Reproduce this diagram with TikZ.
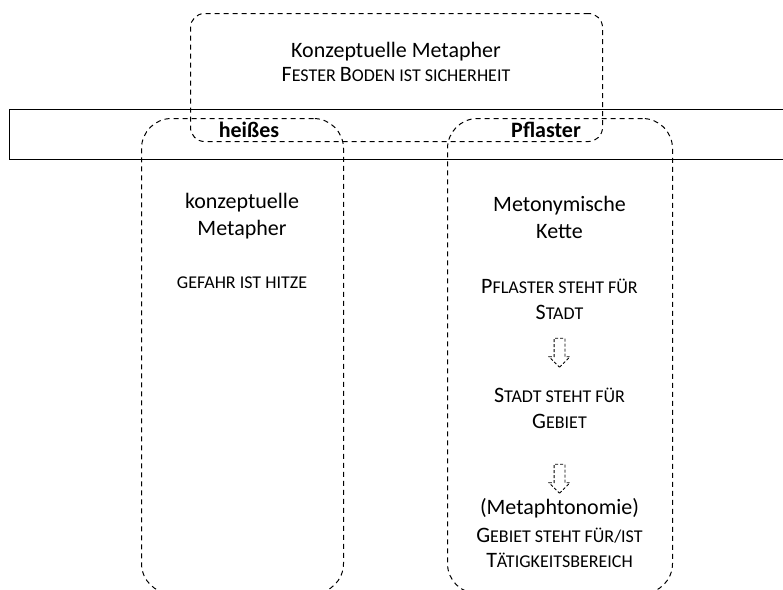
\documentclass[tikz,border=0pt]{standalone}
\usepackage{fontspec}
\setmainfont{Carlito}
\usetikzlibrary{shapes.arrows}
\newcommand*\Versal[1]{{\fontsize{22}{27}\selectfont #1}}
\tikzset{
    dashbox/.style  = {draw, rectangle, dash pattern=on 5pt off 4pt, line width=1pt,
                      rounded corners=#1, inner sep=0pt, anchor=north west},
    dashbox/.default= 30pt,
    band/.style     = {draw, rectangle, line width=1pt, inner sep=0pt, anchor=north west},
    txt/.style      = {font=\fontsize{22}{27}\selectfont, anchor=base, inner sep=0pt},
    sctxt/.style    = {font=\fontsize{18}{27}\selectfont, anchor=base, inner sep=0pt},
    headtxt/.style  = {font=\fontsize{22}{27}\bfseries\selectfont, anchor=base, inner sep=0pt},
    hollowarrow/.style = {draw, single arrow, rotate=-90, dash pattern=on 3pt off 2pt,
                      line width=0.8pt, minimum height=29pt, inner sep=5pt,
                      single arrow head extend=5pt},
  }
\begin{document}
\begin{tikzpicture}[x=1pt, y=-1pt]
    \useasboundingbox (0,0) rectangle (783,589);

    % frames
    \node[band, minimum width=781pt, minimum height=50pt] (band) at (9,109) {};
    \node[dashbox=14pt, minimum width=412pt, minimum height=128pt] (metbox) at (190,13) {};
    \node[dashbox, minimum width=202pt, minimum height=475pt] (leftcol) at (141,118) {};
    \node[dashbox, minimum width=225pt, minimum height=475pt] (rightcol) at (447,118) {};

    % top box
    \node[txt]   (kmtitle) at (396,57) {Konzeptuelle Metapher};
    \node[sctxt] (kmtext)  at (396,81) {\Versal{F}ESTER \Versal{B}ODEN IST SICHERHEIT};

    % words in the band
    \node[headtxt] (heisses)  at (249,137) {heißes};
    \node[headtxt] (pflaster) at (546,137) {Pflaster};

    % left column
    \node[txt]   (lefttitleA) at (242,208) {konzeptuelle};
    \node[txt]   (lefttitleB) at (242,235) {Metapher};
    \node[sctxt] (gefahr)     at (242,288) {GEFAHR IST HITZE};

    % right column
    \node[txt]   (righttitleA) at (559.5,211) {Metonymische};
    \node[txt]   (righttitleB) at (559.5,238) {Kette};
    \node[sctxt] (stepA1) at (559.5,293) {\Versal{P}FLASTER STEHT FÜR};
    \node[sctxt] (stepA2) at (559.5,319) {\Versal{S}TADT};
    \node[hollowarrow] (arrowA) at (559.5,350) {};
    \node[sctxt] (stepB1) at (559.5,402) {\Versal{S}TADT STEHT FÜR};
    \node[sctxt] (stepB2) at (559.5,428) {\Versal{G}EBIET};
    \node[hollowarrow] (arrowB) at (559.5,476) {};
    \node[txt]   (metaphto) at (559.5,514) {(Metaphtonomie)};
    \node[sctxt] (stepC1) at (559.5,542) {\Versal{G}EBIET STEHT FÜR/IST};
    \node[sctxt] (stepC2) at (559.5,567) {\Versal{T}ÄTIGKEITSBEREICH};
\end{tikzpicture}
\end{document}
